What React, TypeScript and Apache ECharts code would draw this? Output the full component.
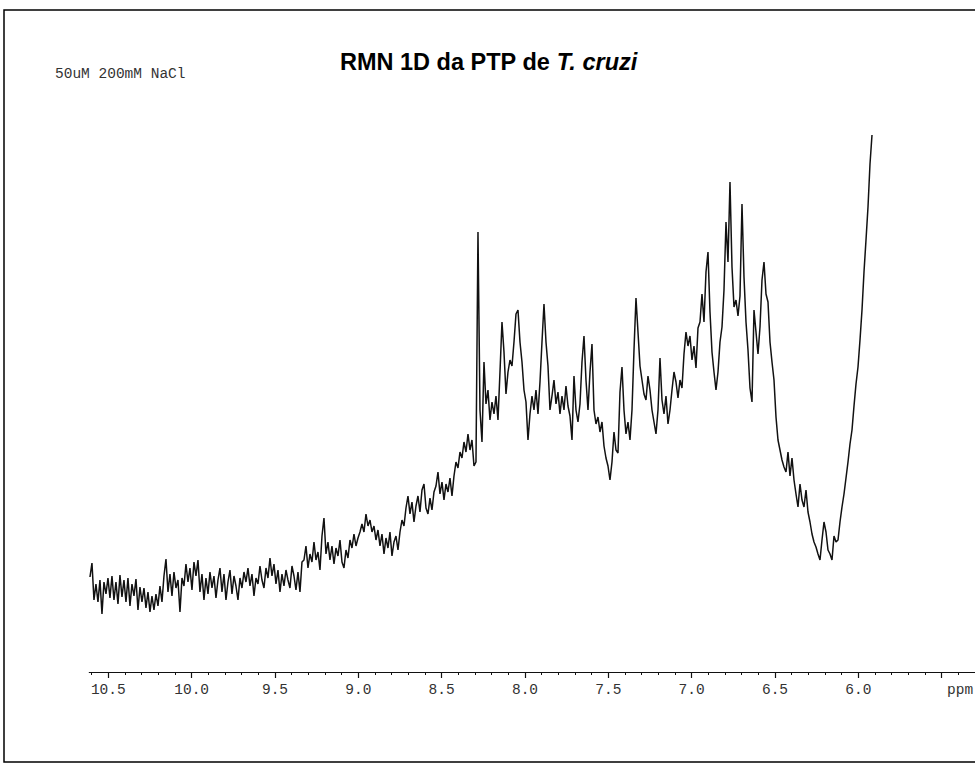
import React, { useEffect, useRef } from "react";
import * as echarts from "echarts";

// Sampling grid of the spectrum (ppm), left to right
const ppmStart = 10.61;
const ppmStep = 0.012;

// Intensity (arbitrary units), left to right
const regionA = [
  95, 109, 72, 88, 70, 92, 58, 90, 78, 94,
  74, 96, 72, 90, 68, 97, 75, 92, 70, 94,
  66, 88, 76, 93, 62, 85, 70, 84, 64, 80,
  60, 76, 62, 78, 66, 86, 70, 96, 113, 80,
  98, 76, 100, 84, 92, 60, 94, 86, 108, 90,
  104, 82, 110, 96, 112, 80, 98, 72, 94, 78,
  100, 84, 96, 74, 92, 104, 80, 98, 72, 90,
  102, 78, 96, 86, 72, 94, 84, 100, 90, 104,
  86, 98, 76, 94, 88, 106, 92, 84, 104, 94,
  114, 96, 108, 88, 102, 80, 98, 86, 102, 92,
];
const regionB = [
  84, 106, 96, 82, 100, 80, 110, 112, 126, 104,
  118, 110, 130, 112, 120, 102, 136, 154, 118, 130,
  112, 126, 108, 124, 116, 132, 110, 104, 122, 114,
  132, 124, 138, 126, 134, 140, 148, 140, 158, 146,
  152, 140, 146, 132, 142, 126, 138, 118, 134, 124,
  140, 116, 130, 136, 122, 140, 152, 146, 164, 176,
  158, 170, 150, 166, 176, 160, 182, 188, 164, 158,
  174, 162, 180, 186, 200, 178, 190, 172, 188, 180,
  194, 176, 196, 210, 204, 220, 214, 230, 220, 238,
  222, 232, 206, 210,
];
const regionC = [
  440, 262, 230, 310, 268, 282,
  252, 270, 258, 276, 252, 300, 350, 320, 278, 300,
  312, 306, 330, 358, 362, 330, 310, 282, 270, 232,
  258, 276, 262, 282, 258, 290, 330, 368, 330, 306,
  262, 276, 292, 268, 280, 258, 276, 262, 286, 266,
  256, 232, 296, 262, 250, 268, 310, 336, 292, 262,
  300, 328, 262, 248, 255, 240, 250, 226, 214, 206,
  192, 210, 240, 222, 219, 280, 305, 262, 238, 250,
  232, 262, 322, 374, 340, 306, 292, 278, 272, 296,
  282, 262, 250, 238, 262, 314, 272, 258, 276, 248,
  262, 282, 300, 290, 274, 292, 284, 318, 340, 326,
];
const regionD = [
  336, 312, 326, 304, 344, 350, 378, 350, 400, 420,
  360, 320, 300, 282, 300, 330, 345, 382, 450, 410,
  490, 405, 365, 372, 356, 376, 468, 395, 350, 322,
  284, 270, 362, 340, 318, 345, 392, 410, 378, 370,
  330, 310, 292, 255, 232, 222, 212, 205, 200, 220,
  196, 214, 192, 178, 165, 188, 172, 165, 182, 160,
  150, 138, 130, 125, 118, 112, 132, 150, 140, 122,
  118, 112, 136, 130, 132, 150, 165, 178, 194, 210,
  228, 242, 266, 288, 305, 332, 362, 400, 432, 465,
  508, 537,
];

// Axis ticks
const majorTicks = [10.5, 10.0, 9.5, 9.0, 8.5, 8.0, 7.5, 7.0, 6.5, 6.0, 5.5];
const labelTicks = [10.5, 10.0, 9.5, 9.0, 8.5, 8.0, 7.5, 7.0, 6.5, 6.0];
const minorTicks = [
  10.6, 10.4, 10.3, 10.2, 10.1, 9.9, 9.8, 9.7, 9.6, 9.4, 9.3, 9.2, 9.1,
  8.9, 8.8, 8.7, 8.6, 8.4, 8.3, 8.2, 8.1, 7.9, 7.8, 7.7, 7.6, 7.4, 7.3,
  7.2, 7.1, 6.9, 6.8, 6.7, 6.6, 6.4, 6.3, 6.2, 6.1, 5.9, 5.8, 5.7, 5.6, 5.4,
];

const titleMain = "RMN 1D da PTP de ";
const titleItalic = "T. cruzi";
const sampleNote = "50uM 200mM NaCl";
const unitLabel = "ppm";

const MONO = "'Liberation Mono', 'DejaVu Sans Mono', monospace";
const SANS = "'Liberation Sans', Arial, Helvetica, sans-serif";

export default function App() {
  const ref = useRef<HTMLDivElement>(null);

  useEffect(() => {
    if (!ref.current) return;
    const chart = echarts.init(ref.current, undefined, { renderer: "svg" });
    const values = [...regionA, ...regionB, ...regionC, ...regionD];
    const data = values.map((v, i) => [
      Number((ppmStart - i * ppmStep).toFixed(3)),
      v,
    ]);

    chart.setOption({
      animation: false,
      backgroundColor: "#ffffff",
      grid: { left: 89.3, right: 0, top: 100, bottom: 93, containLabel: false },
      xAxis: [
        {
          type: "value",
          min: 5.3,
          max: 10.614,
          inverse: true,
          position: "bottom",
          axisLine: { show: true, lineStyle: { color: "#111", width: 1.2 } },
          axisTick: {
            show: true,
            customValues: majorTicks,
            length: 6,
            lineStyle: { color: "#111", width: 1.2 },
          },
          axisLabel: {
            show: true,
            customValues: labelTicks,
            formatter: (v: number) => v.toFixed(1),
            fontFamily: MONO,
            fontSize: 14.5,
            color: "#333",
            margin: 10,
          },
          splitLine: { show: false },
        },
        {
          type: "value",
          min: 5.3,
          max: 10.614,
          inverse: true,
          position: "bottom",
          offset: 0,
          axisLine: { show: false },
          axisTick: {
            show: true,
            customValues: minorTicks,
            length: 3,
            lineStyle: { color: "#111", width: 1 },
          },
          axisLabel: { show: false },
          splitLine: { show: false },
        },
      ],
      yAxis: {
        type: "value",
        min: 0,
        max: 572,
        show: false,
        splitLine: { show: false },
      },
      series: [
        {
          type: "line",
          xAxisIndex: 0,
          data,
          showSymbol: false,
          symbol: "none",
          lineStyle: { color: "#111", width: 1.5 },
          emphasis: { disabled: true },
        },
      ],
      graphic: [
        {
          type: "rect",
          shape: { x: 4, y: 10, width: 1000, height: 752 },
          style: { fill: "none", stroke: "#000", lineWidth: 1.5 },
          silent: true,
        },
        {
          type: "text",
          x: 340,
          y: 50,
          style: {
            text: `{a|${titleMain}}{b|${titleItalic}}`,
            rich: {
              a: { fontFamily: SANS, fontWeight: "bold", fontSize: 23.5, fill: "#000" },
              b: {
                fontFamily: SANS,
                fontWeight: "bold",
                fontStyle: "italic",
                fontSize: 23.5,
                fill: "#000",
              },
            },
          },
        },
        {
          type: "text",
          x: 55,
          y: 66,
          style: {
            text: sampleNote,
            fontFamily: MONO,
            fontSize: 14.5,
            fill: "#333",
          },
        },
        {
          type: "text",
          x: 947,
          y: 682,
          style: {
            text: unitLabel,
            fontFamily: MONO,
            fontSize: 14.5,
            fill: "#333",
          },
        },
      ],
    });

    return () => chart.dispose();
  }, []);

  return (
    <div
      ref={ref}
      style={{ position: "fixed", left: 0, top: 0, width: 975, height: 765 }}
    />
  );
}
